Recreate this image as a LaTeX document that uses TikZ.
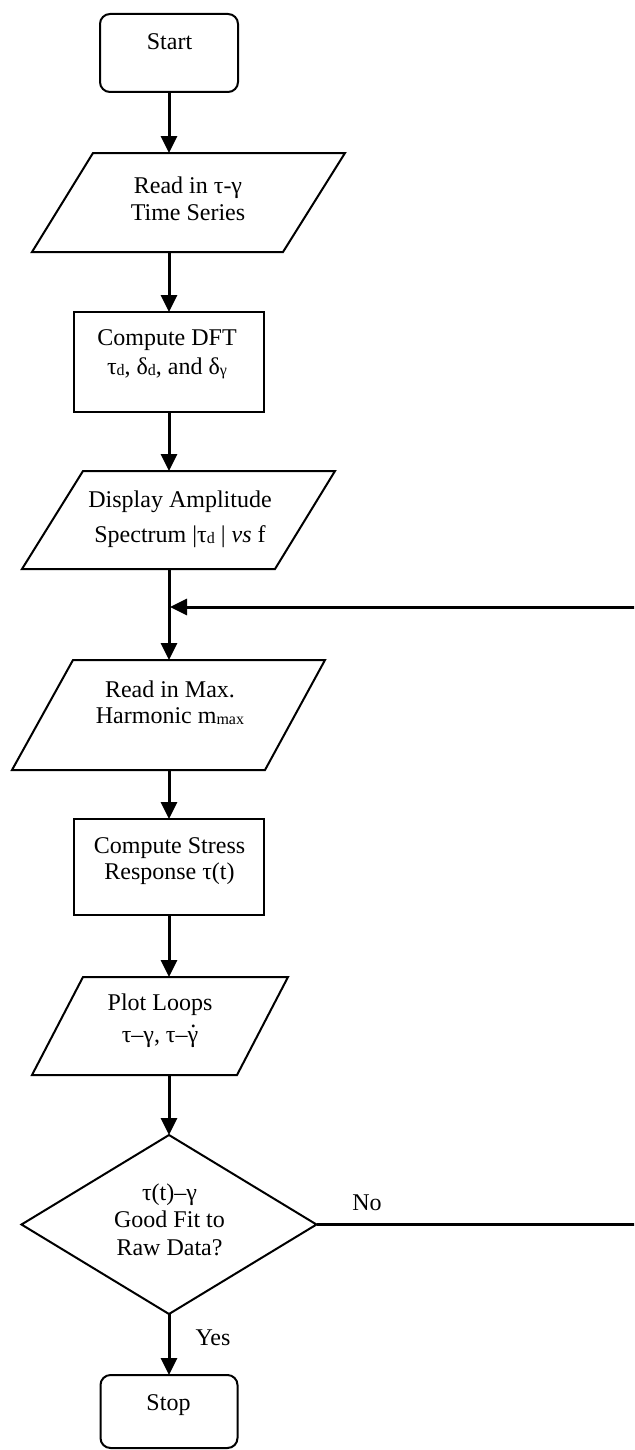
\documentclass[tikz,border=0pt]{standalone}
\usepackage{fontspec}
\setmainfont{Liberation Serif}
\usetikzlibrary{arrows.meta,shapes.geometric}
\newcommand{\sbs}[1]{\raisebox{-0.9pt}{\fontsize{8}{8}\selectfont #1}}
\newcommand{\gdot}{γ\llap{\raisebox{0.62em}{.}\hspace{0.08em}}}
\newcommand{\tl}[2]{\fontsize{12}{#1}\selectfont\begin{tabular}[t]{@{}c@{}}#2\end{tabular}}
\begin{document}
\begin{tikzpicture}[x=0.5pt,y=-0.5pt,
  shapeline/.style={draw=black,line width=1pt,line join=miter},
  rbox/.style={shapeline,rectangle,rounded corners=5pt,inner sep=0pt,outer sep=0pt},
  pbox/.style={shapeline,rectangle,inner sep=0pt,outer sep=0pt},
  dbox/.style={shapeline,diamond,inner sep=0pt,outer sep=0pt},
  lbl/.style={anchor=base,inner sep=0pt,font=\fontsize{12}{14}\selectfont},
  arr/.style={line width=1.5pt,-{Triangle[width=8pt,length=8.5pt]}}]
\useasboundingbox (0,0) rectangle (634,1450);
\clip (0,0) rectangle (634,1450);

% boxes
\node[rbox, minimum width=69pt, minimum height=39pt] (start) at (169,53) {};
\node[pbox, minimum width=95pt, minimum height=50pt] (dft) at (169,362) {};
\node[pbox, minimum width=95pt, minimum height=48pt] (stress) at (169,867) {};
\node[rbox, minimum width=68.5pt, minimum height=36.5pt] (stop) at (169,1411.5) {};
\node[dbox, minimum width=147.5pt, minimum height=89.5pt] (dm) at (169,1224.5) {};

% parallelograms
\coordinate (p1tl) at (93,153);  \coordinate (p1tr) at (345,153);
\coordinate (p1br) at (283,252); \coordinate (p1bl) at (32,252);
\draw[shapeline] (p1tl)--(p1tr)--(p1br)--(p1bl)--cycle;
\coordinate (p1n) at (169,153); \coordinate (p1s) at (169,252);

\coordinate (p2tl) at (83,471);  \coordinate (p2tr) at (335,471);
\coordinate (p2br) at (275,569); \coordinate (p2bl) at (22,569);
\draw[shapeline] (p2tl)--(p2tr)--(p2br)--(p2bl)--cycle;
\coordinate (p2n) at (169,471); \coordinate (p2s) at (169,569);

\coordinate (p3tl) at (73,660);  \coordinate (p3tr) at (325,660);
\coordinate (p3br) at (265,770); \coordinate (p3bl) at (12,770);
\draw[shapeline] (p3tl)--(p3tr)--(p3br)--(p3bl)--cycle;
\coordinate (p3n) at (169,660); \coordinate (p3s) at (169,770);

\coordinate (p4tl) at (83,977);  \coordinate (p4tr) at (288,977);
\coordinate (p4br) at (237,1075); \coordinate (p4bl) at (32,1075);
\draw[shapeline] (p4tl)--(p4tr)--(p4br)--(p4bl)--cycle;
\coordinate (p4n) at (169,977); \coordinate (p4s) at (169,1075);

% texts
\node[lbl] (tstart) at (169.5,50) {Start};
\node[lbl] (t1) at (188,193) {\tl{13.5}{Read in τ-γ\\Time Series}};
\node[lbl] (t2) at (167,345) {\tl{14.5}{Compute DFT\\τ\sbs{d}, δ\sbs{d}, and δ\sbs{γ}}};
\node[lbl] (t3) at (180,507) {\tl{17.5}{Display Amplitude\\Spectrum |τ\sbs{d} | \textit{vs} f}};
\node[lbl] (t4) at (170,697) {\tl{13}{Read in Max.\\Harmonic m\sbs{max}}};
\node[lbl] (t5) at (169.5,853) {\tl{13}{Compute Stress\\Response τ(t)}};
\node[lbl] (t6) at (160,1010) {\tl{16}{Plot Loops\\τ–γ, τ–\gdot}};
\node[lbl] (t7) at (169.5,1200) {\tl{13.75}{τ(t)–γ\\Good Fit to\\Raw Data?}};
\node[lbl] (tno) at (367,1210) {No};
\node[lbl] (tyes) at (213,1345) {Yes};
\node[lbl] (tstop) at (168.5,1410) {Stop};

% connectors
\coordinate (rc1) at (645,1224.5);
\coordinate (rc2) at (645,607);
\coordinate (join) at (170,607);
\draw[arr] (start.south) -- (p1n);
\draw[arr] (p1s) -- (dft.north);
\draw[arr] (dft.south) -- (p2n);
\draw[arr] (p2s) -- (p3n);
\draw[arr] (dm.east) -- (rc1) -- (rc2) -- (join);
\draw[arr] (p3s) -- (stress.north);
\draw[arr] (stress.south) -- (p4n);
\draw[arr] (p4s) -- (dm.north);
\draw[arr] (dm.south) -- (stop.north);
\end{tikzpicture}
\end{document}
